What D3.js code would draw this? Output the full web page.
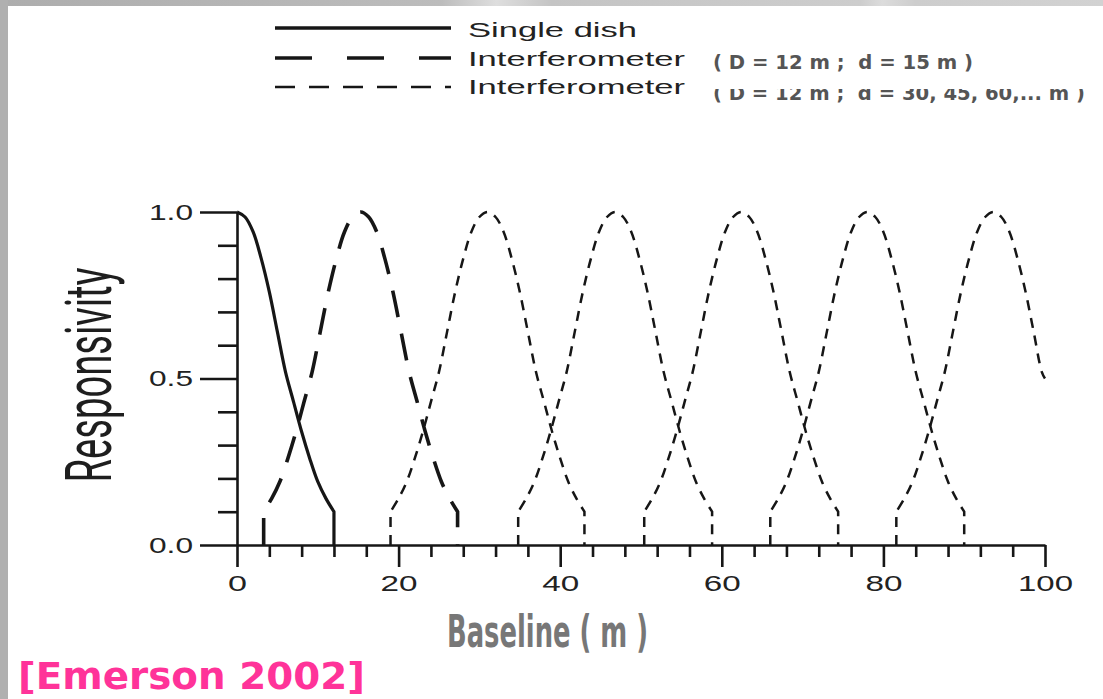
<!DOCTYPE html>
<html><head><meta charset="utf-8">
<script src="https://cdn.jsdelivr.net/npm/d3@7"></script>
<style>html,body{margin:0;padding:0;background:#fff;overflow:hidden}</style>
</head><body>
<svg id="c" width="1103" height="699"></svg>
<script>
// ---- data ----
const xMajor = [0, 20, 40, 60, 80, 100];
const xMinor = [4, 8, 12, 16, 24, 28, 32, 36, 44, 48, 52, 56, 64, 68, 72, 76, 84, 88, 92, 96];
const xTickLabels = ["0", "20", "40", "60", "80", "100"];
const yMajor = [0, 0.5, 1.0];
const yMinor = [0.1, 0.2, 0.3, 0.4, 0.6, 0.7, 0.8, 0.9];
const yTickLabels = ["0.0", "0.5", "1.0"];

const singleX = [0, 1, 2, 3, 4, 5, 6, 7, 8, 9, 10, 11, 12, 12];
const singleY = [1.0, 0.985, 0.94, 0.86, 0.76, 0.64, 0.52, 0.43, 0.34, 0.26, 0.19, 0.14, 0.10, 0];

const interY = [0, 0.10, 0.14, 0.19, 0.26, 0.34, 0.43, 0.52, 0.64, 0.76, 0.86, 0.94, 0.985, 1.0,
                0.985, 0.94, 0.86, 0.76, 0.64, 0.52, 0.43, 0.34, 0.26, 0.19, 0.14, 0.10, 0];
const inter15X = [3.3, 3.3, 4.3, 5.3, 6.3, 7.3, 8.3, 9.3, 10.3, 11.3, 12.3, 13.3, 14.3, 15.3,
                  16.3, 17.3, 18.3, 19.3, 20.3, 21.3, 22.3, 23.3, 24.3, 25.3, 26.3, 27.3, 27.3];
const inter30X = [19, 19, 20, 21, 22, 23, 24, 25, 26, 27, 28, 29, 30, 31,
                  32, 33, 34, 35, 36, 37, 38, 39, 40, 41, 42, 43, 43];
const inter45X = [34.8, 34.8, 35.8, 36.8, 37.8, 38.8, 39.8, 40.8, 41.8, 42.8, 43.8, 44.8, 45.8, 46.8,
                  47.8, 48.8, 49.8, 50.8, 51.8, 52.8, 53.8, 54.8, 55.8, 56.8, 57.8, 58.8, 58.8];
const inter60X = [50.4, 50.4, 51.4, 52.4, 53.4, 54.4, 55.4, 56.4, 57.4, 58.4, 59.4, 60.4, 61.4, 62.4,
                  63.4, 64.4, 65.4, 66.4, 67.4, 68.4, 69.4, 70.4, 71.4, 72.4, 73.4, 74.4, 74.4];
const inter75X = [66, 66, 67, 68, 69, 70, 71, 72, 73, 74, 75, 76, 77, 78,
                  79, 80, 81, 82, 83, 84, 85, 86, 87, 88, 89, 90, 90];
const inter90X = [81.6, 81.6, 82.6, 83.6, 84.6, 85.6, 86.6, 87.6, 88.6, 89.6, 90.6, 91.6, 92.6, 93.6,
                  94.6, 95.6, 96.6, 97.6, 98.6, 99.6, 100];
const inter90Y = [0, 0.10, 0.14, 0.19, 0.26, 0.34, 0.43, 0.52, 0.64, 0.76, 0.86, 0.94, 0.985, 1.0,
                  0.985, 0.94, 0.86, 0.76, 0.64, 0.52, 0.50];

const legendLabels = ["Single dish", "Interferometer", "Interferometer"];
const legendNotes = ["( D = 12 m ;  d = 15 m )", "( D = 12 m ;  d = 30, 45, 60,... m )"];
const yTitle = "Responsivity";
const xTitle = "Baseline ( m )";
const sourceNote = "[Emerson 2002]";

// ---- drawing ----
const svg = d3.select("#c");
const defs = svg.append("defs");
const grad = defs.append("linearGradient").attr("id", "topg").attr("x1", "0").attr("x2", "1");
[[0, "#adadad"], [0.4, "#bcbcbc"], [0.45, "#dedede"], [0.5, "#c4c4c4"], [0.78, "#cdcdcd"], [0.8, "#dcdcdc"], [0.83, "#cdcdcd"], [1, "#d2d2d2"]]
  .forEach(([o, c]) => grad.append("stop").attr("offset", o).attr("stop-color", c));

svg.append("rect").attr("x", 0).attr("y", 0).attr("width", 1103).attr("height", 699).attr("fill", "#ffffff");
svg.append("rect").attr("x", 0).attr("y", 0).attr("width", 1103).attr("height", 6).attr("fill", "url(#topg)");
svg.append("rect").attr("x", 0).attr("y", 0).attr("width", 8).attr("height", 699).attr("fill", "#b0b0b0");

const x = d3.scaleLinear().domain([0, 100]).range([237, 1045]);
const y = d3.scaleLinear().domain([0, 1]).range([545, 212]);

const axisFont = "'Liberation Sans', Arial, sans-serif";
const ink = "#161616";

// minor ticks
svg.append("g").attr("transform", "translate(0,545)")
  .call(d3.axisBottom(x).tickValues(xMinor).tickSize(12).tickSizeOuter(0).tickFormat(""))
  .call(g => g.select(".domain").remove());
svg.append("g").attr("transform", "translate(237,0)")
  .call(d3.axisLeft(y).tickValues(yMinor).tickSize(19).tickSizeOuter(0).tickFormat(""))
  .call(g => g.select(".domain").remove());
// major axes
const xw = {"0": 19, "20": 37, "40": 37, "60": 37, "80": 37, "100": 55};
svg.append("g").attr("class", "xax").attr("transform", "translate(0,545)")
  .call(d3.axisBottom(x).tickValues(xMajor).tickSize(22).tickSizeOuter(0).tickPadding(8)
        .tickFormat((d, i) => xTickLabels[i]));
svg.append("g").attr("class", "yax").attr("transform", "translate(237,0)")
  .call(d3.axisLeft(y).tickValues(yMajor).tickSize(37).tickSizeOuter(0).tickPadding(7)
        .tickFormat((d, i) => yTickLabels[i]));
svg.selectAll(".tick line, .domain").attr("stroke", ink).attr("stroke-width", 2.6);
svg.selectAll(".xax text").attr("font-family", axisFont).attr("font-size", 22).attr("fill", "#222")
  .attr("textLength", function() { return xw[this.textContent]; }).attr("lengthAdjust", "spacingAndGlyphs");
svg.selectAll(".yax text").attr("font-family", axisFont).attr("font-size", 22).attr("fill", "#222")
  .attr("textLength", 44).attr("lengthAdjust", "spacingAndGlyphs");

// curves: smooth body, straight vertical drops at the ends
const line = d3.line().x(d => x(d[0])).y(d => y(d[1])).curve(d3.curveCatmullRom.alpha(0.5));
const zip = (xs, ys) => xs.map((v, i) => [v, ys[i]]);
function curvePath(pts) {
  let head = null, tail = null, body = pts.slice();
  if (body.length > 1 && body[0][0] === body[1][0]) head = body.shift();
  const n = body.length;
  if (n > 1 && body[n - 1][0] === body[n - 2][0]) tail = body.pop();
  let d = line(body);
  if (head) d = `M${x(head[0])},${y(head[1])}L` + d.substring(1);
  if (tail) d += `L${x(tail[0])},${y(tail[1])}`;
  return d;
}
defs.append("clipPath").attr("id", "plot").append("rect")
  .attr("x", x(0) - 2).attr("y", y(1) - 10).attr("width", x(100) - x(0) + 3).attr("height", y(0) - y(1) + 12);
const pg = svg.append("g").attr("clip-path", "url(#plot)");
pg.append("path").attr("d", curvePath(zip(singleX, singleY)))
  .attr("fill", "none").attr("stroke", ink).attr("stroke-width", 3.2).attr("stroke-linejoin", "round");
pg.append("path").attr("d", curvePath(zip(inter15X, interY)))
  .attr("fill", "none").attr("stroke", ink).attr("stroke-width", 3.6).attr("stroke-dasharray", "27,17");
[inter30X, inter45X, inter60X, inter75X].forEach(xs => {
  pg.append("path").attr("d", curvePath(zip(xs, interY)))
    .attr("fill", "none").attr("stroke", ink).attr("stroke-width", 2.5).attr("stroke-dasharray", "10,8");
});
pg.append("path").attr("d", curvePath(zip(inter90X, inter90Y)))
  .attr("fill", "none").attr("stroke", ink).attr("stroke-width", 2.5).attr("stroke-dasharray", "10,8");

// legend
const legY = [28, 58, 87];
const legDash = [null, "37,35", "20,14"];
const legW = [3.4, 3.6, 2.4];
const legBase = [37, 66, 94];
const legTL = [169, 217, 217];
legendLabels.forEach((t, i) => {
  const l = svg.append("line").attr("x1", 275).attr("x2", 451).attr("y1", legY[i]).attr("y2", legY[i])
    .attr("stroke", ink).attr("stroke-width", legW[i]);
  if (legDash[i]) l.attr("stroke-dasharray", legDash[i]);
  svg.append("text").attr("x", 468).attr("y", legBase[i]).text(t)
    .attr("font-family", axisFont).attr("font-size", 21).attr("fill", "#222")
    .attr("textLength", legTL[i]).attr("lengthAdjust", "spacingAndGlyphs");
});
defs.append("clipPath").attr("id", "noteclip").attr("clipPathUnits", "userSpaceOnUse").append("rect")
  .attr("x", 690).attr("y", 89).attr("width", 413).attr("height", 30);
const noteFont = "'DejaVu Sans', Verdana, sans-serif";
svg.append("text").attr("x", 713).attr("y", 69).text(legendNotes[0])
  .attr("font-family", noteFont).attr("font-weight", "bold").attr("font-size", 19).attr("fill", "#555")
  .style("white-space", "pre")
  .attr("textLength", 260).attr("lengthAdjust", "spacingAndGlyphs");
svg.append("g").attr("clip-path", "url(#noteclip)")
  .append("text").attr("x", 713).attr("y", 100).text(legendNotes[1])
  .attr("font-family", noteFont).attr("font-weight", "bold").attr("font-size", 19).attr("fill", "#555")
  .style("white-space", "pre")
  .attr("textLength", 372).attr("lengthAdjust", "spacingAndGlyphs");

// axis titles
svg.append("text").attr("transform", "translate(111,375) rotate(-90)").attr("text-anchor", "middle")
  .text(yTitle).attr("font-family", "Roboto, 'Liberation Sans', sans-serif").attr("font-size", 64)
  .attr("fill", "#1e1e1e").attr("textLength", 215).attr("lengthAdjust", "spacingAndGlyphs");
svg.append("text").attr("x", 447).attr("y", 647).text(xTitle)
  .attr("font-family", "'DejaVu Sans Condensed', 'DejaVu Sans', sans-serif").attr("font-weight", "bold")
  .attr("font-size", 44).attr("fill", "#777").style("white-space", "pre")
  .attr("textLength", 201).attr("lengthAdjust", "spacingAndGlyphs");
svg.append("text").attr("x", 18).attr("y", 689).text(sourceNote)
  .attr("font-family", "'DejaVu Sans', sans-serif").attr("font-weight", "bold")
  .attr("font-size", 38).attr("fill", "#ff3399")
  .attr("textLength", 347).attr("lengthAdjust", "spacingAndGlyphs");
</script>
</body></html>
